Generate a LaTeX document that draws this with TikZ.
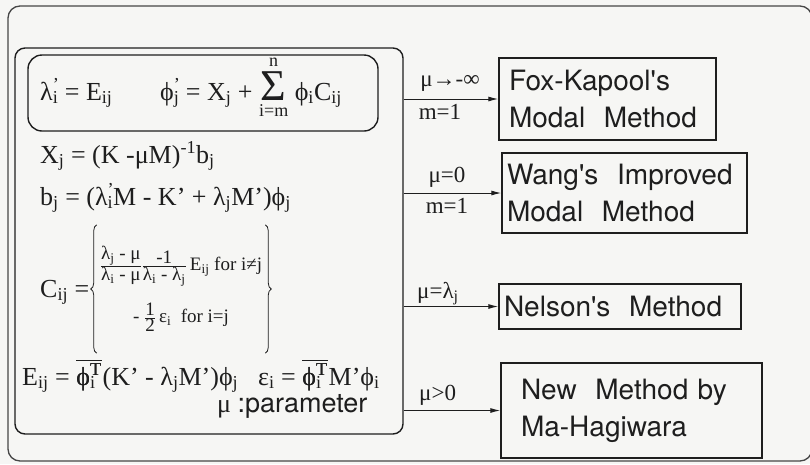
\documentclass[tikz,border=0pt]{standalone}
\usepackage{amsmath}
\usepackage{fontspec}
\setmainfont{Liberation Serif}
\newfontfamily\helv{TeX Gyre Heros}
\usepackage{tikz}
\usetikzlibrary{arrows.meta,positioning,calc,decorations.pathreplacing}
\definecolor{ink}{RGB}{30,30,30}
\definecolor{rim}{RGB}{70,70,70}
\definecolor{paper}{RGB}{246,246,244}
\newcommand{\sbs}[1]{\textsubscript{#1}}
\newcommand{\sps}[1]{\textsuperscript{#1}}
\newcommand{\prm}[1]{\rlap{\sps{'}}\sbs{#1}}
\newcommand{\phb}[1]{\rlap{$\overline{\mbox{ϕ\sps{T}}}$}ϕ\rlap{\sbs{#1}}\sps{T}\kern1pt}
\tikzset{
  outline/.style={draw=rim,line width=1.3pt,rounded corners=12pt},
  panel/.style={draw=ink,line width=1.4pt,rounded corners=10pt,inner sep=0pt},
  method/.style={draw=ink,line width=1.4pt,align=left,text=ink,inner ysep=0pt,
    font=\helv\fontsize{28}{37}\selectfont},
  eq/.style={anchor=base west,inner sep=0pt,text=ink,font=\fontsize{26}{30}\selectfont},
  cond/.style={anchor=base,inner sep=0pt,text=ink,font=\fontsize{23}{25}\selectfont},
  feed/.style={line width=1pt,ink,-{Latex[length=10pt,width=5pt]}},
  curly/.style={draw=ink,line width=0.8pt,decorate,decoration={brace,amplitude=6pt}}
}

\begin{document}
\begin{tikzpicture}[x=1pt,y=-1pt]
  \useasboundingbox (0,0) rectangle (810,464);
  \clip (0,0) rectangle (810,464);
  \fill[paper] (0,0) rectangle (810,464);
  \draw[outline] (8,6) rectangle (812,461);
  \node[panel,minimum width=388pt,minimum height=386pt] (eqs) at (209,241) {};
  \node[panel,rounded corners=14pt,minimum width=350pt,minimum height=76pt] (defs) at (203,93) {};

  \node[eq] (lam) at (40,100) {λ\prm{i} = E\sbs{ij}};
  \node[eq] (phi) at (160,100) {ϕ\prm{j} = X\sbs{j} +
    $\mathop{\mbox{\fontsize{44}{44}\selectfont Σ}}\limits^{\mbox{\fontsize{18}{18}\selectfont n}}_{\mbox{\fontsize{18}{18}\selectfont i=m}}$
    ϕ\sbs{i}C\sbs{ij}};
  \node[eq] (xj) at (40,163) {X\sbs{j} = (K -μM)\sps{-1}b\sbs{j}};
  \node[eq] (bj) at (40,205) {b\sbs{j} = (λ\prm{i}M - K' + λ\sbs{j}M')ϕ\sbs{j}};
  \node[eq] (cij) at (40,297) {C\sbs{ij} =};
  \node[inner xsep=3pt,inner ysep=0pt,minimum height=128pt,text=ink,font=\fontsize{19}{21}\selectfont] (cases) at (181,289)
    {\begin{tabular}{@{}c@{}}
        $\frac{\mbox{λ\sbs{j} - μ}}{\mbox{λ\sbs{i} - μ}}\frac{\mbox{-1}}{\mbox{λ\sbs{i} - λ\sbs{j}}}$\,E\sbs{ij} for i≠j\\[26pt]
        - $\frac{\mbox{1}}{\mbox{2}}$\,ε\sbs{i}\ \ for i=j
      \end{tabular}};
  \draw[curly] (cases.south west) -- (cases.north west);
  \draw[curly] (cases.north east) -- (cases.south east);
  \node[eq] (eij) at (22,385) {E\sbs{ij} = \phb{i}(K' - λ\sbs{j}M')ϕ\sbs{j}};
  \node[eq] (epsi) at (258,385) {ε\sbs{i} = \phb{i}M'ϕ\sbs{i}};
  \node[eq] (par) at (217,412) {μ {\helv\fontsize{27}{30}\selectfont :parameter}};

  \node[method,inner xsep=10pt,text width=197pt,minimum height=82pt] (fox) at (607.5,99)
    {Fox-Kapool's\\Modal\ \ Method};
  \node[method,inner xsep=5pt,text width=235pt,minimum height=80pt] (wang) at (624.5,193)
    {Wang's\ \ Improved\\Modal\ \ Method};
  \node[method,inner xsep=5pt,text width=232pt,minimum height=45pt] (nelson) at (620,306.5)
    {Nelson's\ \ Method};
  \node[method,inner xsep=20pt,text width=221pt,minimum height=95pt] (new) at (631.5,410.5)
    {New\ \ Method by\\Ma-Hagiwara};

  \draw[feed] (eqs.east |- fox.west) -- (fox.west);
  \draw[feed] (eqs.east |- wang.west) -- (wang.west);
  \draw[feed] (eqs.east |- nelson.west) -- (nelson.west);
  \draw[feed] (eqs.east |- new.west) -- (new.west);

  \node[cond] (c1) at (450,86) {μ→-∞};
  \node[cond] (m1) at (440,119) {m=1};
  \node[cond] (c2) at (447,182) {μ=0};
  \node[cond] (m2) at (447,213) {m=1};
  \node[cond,anchor=base west] (c3) at (417,298) {μ=λ\sbs{j}};
  \node[cond,anchor=base west] (c4) at (419,400) {μ>0};
\end{tikzpicture}
\end{document}
